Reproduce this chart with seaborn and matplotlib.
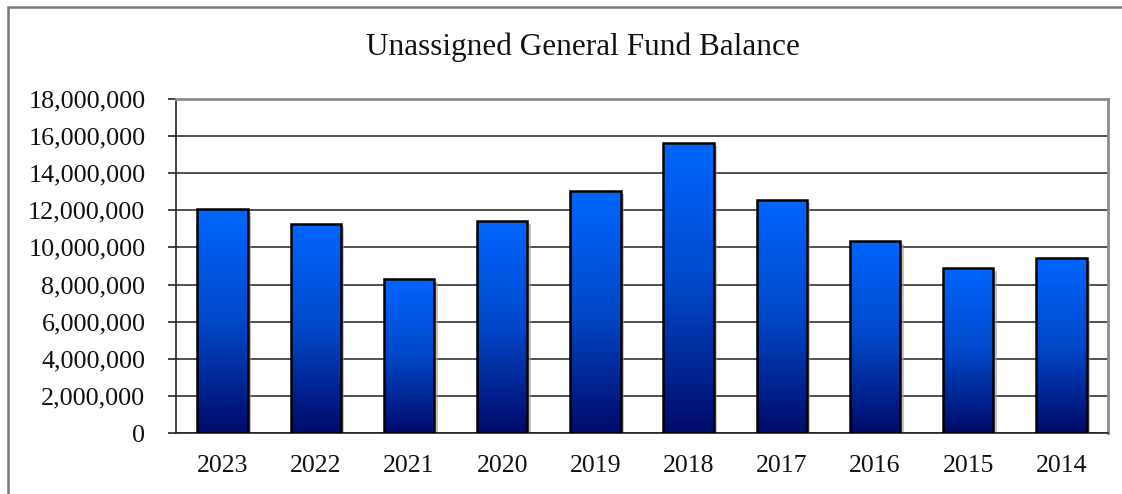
import numpy as np
import pandas as pd
import matplotlib
matplotlib.use("Agg")
import matplotlib.pyplot as plt
import matplotlib.patheffects as pe
from matplotlib.colors import LinearSegmentedColormap
from matplotlib.patches import Rectangle
from matplotlib.ticker import FuncFormatter, MultipleLocator
import seaborn as sns

years = ["2023", "2022", "2021", "2020", "2019", "2018", "2017", "2016", "2015", "2014"]
balances = [12070000, 11260000, 8300000, 11430000, 13040000,
            15630000, 12560000, 10350000, 8890000, 9430000]
title = "Unassigned General Fund Balance"

sns.set_theme(style="white")
plt.rcParams["font.family"] = ["Liberation Serif", "DejaVu Serif"]

df = pd.DataFrame({"year": years, "balance": balances})

fig = plt.figure(figsize=(11.22, 4.94), dpi=100)
ax = fig.add_axes([176 / 1122, 1 - 433 / 494, (1108 - 176) / 1122, (433 - 99) / 494])

sns.barplot(data=df, x="year", y="balance", order=years, color="#000a6e",
            width=0.54, saturation=1, ax=ax, zorder=2)

# vertical gradient fill per bar: bright blue on top, navy at the base
grad_cmap = LinearSegmentedColormap.from_list("bar_grad", ["#000a6a", "#0048c8", "#0066ff"])
grad = np.linspace(0, 1, 256).reshape(-1, 1)
for p in list(ax.patches):
    x0, w, h = p.get_x(), p.get_width(), p.get_height()
    p.set_edgecolor("none")
    p.set_path_effects([pe.SimplePatchShadow(offset=(2.5, -2), shadow_rgbFace="#9a9a9a", alpha=0.6),
                        pe.Normal()])
    im = ax.imshow(grad, extent=[x0, x0 + w, 0, h], origin="lower", aspect="auto",
                   cmap=grad_cmap, zorder=2.5, interpolation="bilinear")
    im.set_clip_path(p)
    ax.add_patch(Rectangle((x0, 0), w, h, fill=False, edgecolor="black", lw=1.8, zorder=3))

ax.set_xlim(-0.5, len(years) - 0.5)
ax.set_ylim(0, 18000000)
ax.yaxis.set_major_locator(MultipleLocator(2000000))
ax.yaxis.set_major_formatter(FuncFormatter(lambda v, _: f"{int(v):,}"))

ax.grid(axis="y", color="#222222", lw=1.1, zorder=1)
ax.grid(axis="x", visible=False)
ax.set_axisbelow(True)
ax.set_xlabel("")
ax.set_ylabel("")

for side in ("top", "right"):
    ax.spines[side].set_color("#8c8c8c")
    ax.spines[side].set_linewidth(2)
for side in ("left", "bottom"):
    ax.spines[side].set_color("#222222")
    ax.spines[side].set_linewidth(1.2)

# category-boundary ticks on x, outward ticks on y
ax.set_xticks(np.arange(len(years)))
ax.set_xticklabels(years)
ax.set_xticks(np.arange(len(years) + 1) - 0.5, minor=True)
ax.tick_params(axis="x", which="major", length=0, pad=16, labelsize=18.5, colors="#111111")
ax.tick_params(axis="x", which="minor", length=6, width=1.2, color="#333333", direction="out")
ax.tick_params(axis="y", length=6, width=1.2, color="#222222", direction="out",
               pad=16, labelsize=18.8, labelcolor="#111111", left=True)

fig.text(583 / 1122, 1 - 55 / 494, title, ha="center", va="baseline",
         fontsize=22.5, color="#111111")

# outer chart frame
fig.add_artist(Rectangle((8 / 1122, -0.05), 1.2, 1 - 7 / 494 + 0.05,
                         transform=fig.transFigure, fill=False,
                         edgecolor="#7a7a7a", lw=1.8))

fig.savefig("out.png", dpi=100, facecolor="white")
